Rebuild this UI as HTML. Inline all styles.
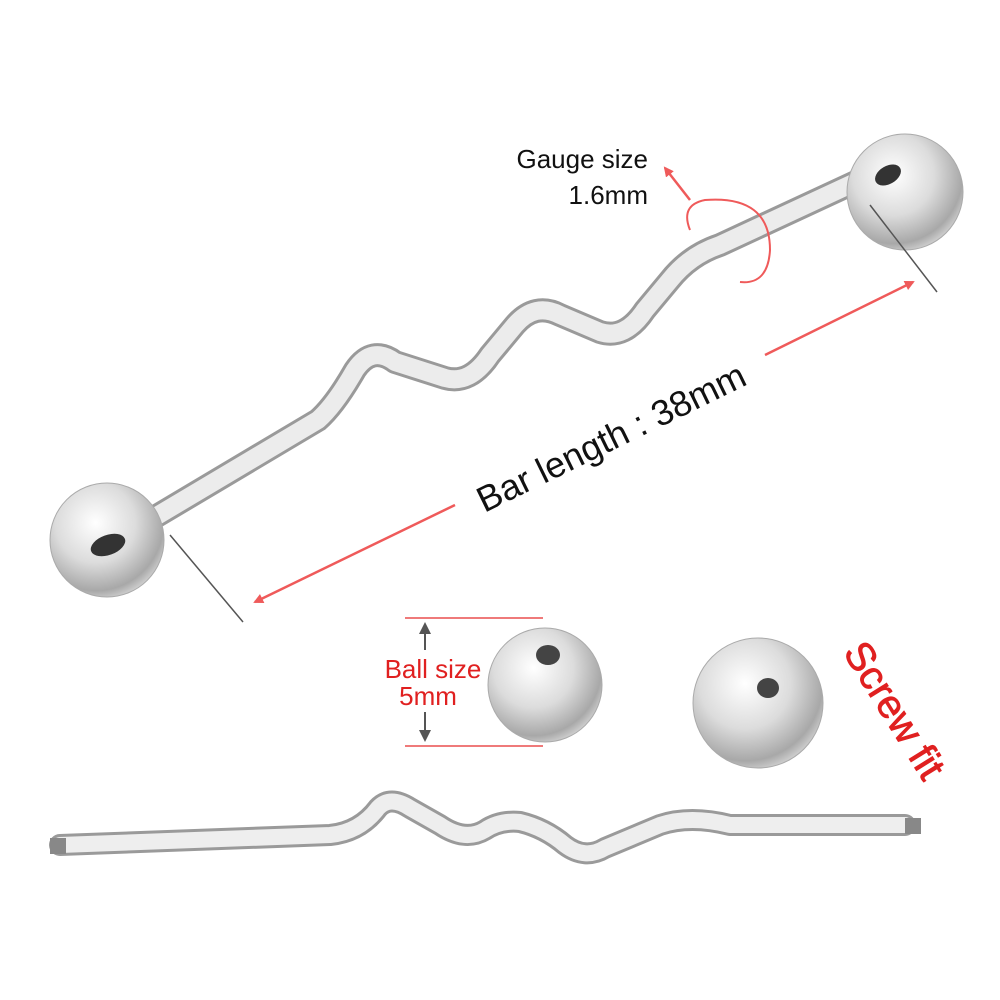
<!DOCTYPE html>
<html><head><meta charset="utf-8"><style>html,body{margin:0;padding:0;background:#fff}svg{display:block}</style></head>
<body>
<svg width="1000" height="1000" viewBox="0 0 1000 1000" xmlns="http://www.w3.org/2000/svg" font-family="Liberation Sans, sans-serif">
<defs>
<radialGradient id="ball" cx="0.4" cy="0.35" r="0.7">
<stop offset="0" stop-color="#ffffff"/><stop offset="0.5" stop-color="#dcdcdc"/><stop offset="0.85" stop-color="#a8a8a8"/><stop offset="1" stop-color="#d8d8d8"/>
</radialGradient>
<marker id="ar" markerWidth="10" markerHeight="10" refX="8" refY="5" orient="auto" markerUnits="userSpaceOnUse"><path d="M0,0 L10,5 L0,10 z" fill="#ef5a5a"/></marker>
<marker id="ag" markerWidth="12" markerHeight="12" refX="10" refY="6" orient="auto" markerUnits="userSpaceOnUse"><path d="M0,0 L12,6 L0,12 z" fill="#555"/></marker>
</defs>
<path d="M150,520 L318,420 Q335,405 355,370 Q372,345 395,362 L445,378 Q470,385 490,355 L515,325 Q535,302 560,315 L600,332 Q625,340 645,310 L670,280 Q690,255 720,245 L860,180" fill="none" stroke="#9a9a9a" stroke-width="24" stroke-linejoin="round" stroke-linecap="round"/>
<path d="M150,520 L318,420 Q335,405 355,370 Q372,345 395,362 L445,378 Q470,385 490,355 L515,325 Q535,302 560,315 L600,332 Q625,340 645,310 L670,280 Q690,255 720,245 L860,180" fill="none" stroke="#ececec" stroke-width="18" stroke-linejoin="round" stroke-linecap="round"/>
<circle cx="107" cy="540" r="57" fill="url(#ball)" stroke="#aaa"/>
<ellipse cx="108" cy="545" rx="18" ry="10" fill="#333" transform="rotate(-20 108 545)"/>
<circle cx="905" cy="192" r="58" fill="url(#ball)" stroke="#aaa"/>
<ellipse cx="888" cy="175" rx="14" ry="9" fill="#333" transform="rotate(-30 888 175)"/>
<line x1="170" y1="535" x2="243" y2="622" stroke="#555" stroke-width="1.5"/>
<line x1="870" y1="205" x2="937" y2="292" stroke="#555" stroke-width="1.5"/>
<line x1="455" y1="505" x2="255" y2="602" stroke="#ef5a5a" stroke-width="2.5" marker-end="url(#ar)"/>
<line x1="765" y1="355" x2="913" y2="282" stroke="#ef5a5a" stroke-width="2.5" marker-end="url(#ar)"/>
<text x="610" y="450" font-size="36" fill="#111" text-anchor="middle" transform="rotate(-26 610 435)">Bar length : 38mm</text>
<path d="M690,230 Q680,205 705,200 Q770,195 770,250 Q768,285 740,282" fill="none" stroke="#ef5a5a" stroke-width="2"/>
<line x1="690" y1="200" x2="665" y2="168" stroke="#ef5a5a" stroke-width="2.5" marker-end="url(#ar)"/>
<text x="648" y="168" font-size="26" fill="#111" text-anchor="end">Gauge size</text>
<text x="648" y="204" font-size="26" fill="#111" text-anchor="end">1.6mm</text>
<line x1="405" y1="618" x2="543" y2="618" stroke="#ef7a7a" stroke-width="2"/>
<line x1="405" y1="746" x2="543" y2="746" stroke="#ef7a7a" stroke-width="2"/>
<line x1="425" y1="650" x2="425" y2="624" stroke="#555" stroke-width="2" marker-end="url(#ag)"/>
<line x1="425" y1="712" x2="425" y2="740" stroke="#555" stroke-width="2" marker-end="url(#ag)"/>
<text x="433" y="678" font-size="26" fill="#e02020" text-anchor="middle">Ball size</text>
<text x="428" y="705" font-size="26" fill="#e02020" text-anchor="middle">5mm</text>
<circle cx="545" cy="685" r="57" fill="url(#ball)" stroke="#aaa"/>
<ellipse cx="548" cy="655" rx="12" ry="10" fill="#444"/>
<circle cx="758" cy="703" r="65" fill="url(#ball)" stroke="#aaa"/>
<ellipse cx="768" cy="688" rx="11" ry="10" fill="#444"/>
<text x="895" y="724" font-size="40" fill="#e02020" text-anchor="middle" stroke="#e02020" stroke-width="0.8" transform="rotate(58 895 710)">Screw fit</text>
<path d="M60,845 L330,835 Q360,832 378,808 Q390,795 410,808 L440,825 Q465,842 485,830 Q500,820 520,822 Q545,828 565,845 Q585,860 605,848 L660,825 Q690,815 730,825 L905,825" fill="none" stroke="#9a9a9a" stroke-width="22" stroke-linejoin="round" stroke-linecap="round"/>
<path d="M60,845 L330,835 Q360,832 378,808 Q390,795 410,808 L440,825 Q465,842 485,830 Q500,820 520,822 Q545,828 565,845 Q585,860 605,848 L660,825 Q690,815 730,825 L905,825" fill="none" stroke="#eeeeee" stroke-width="16" stroke-linejoin="round" stroke-linecap="round"/>
<rect x="50" y="838" width="16" height="16" fill="#888"/>
<rect x="905" y="818" width="16" height="16" fill="#888"/>
</svg>
</body></html>
